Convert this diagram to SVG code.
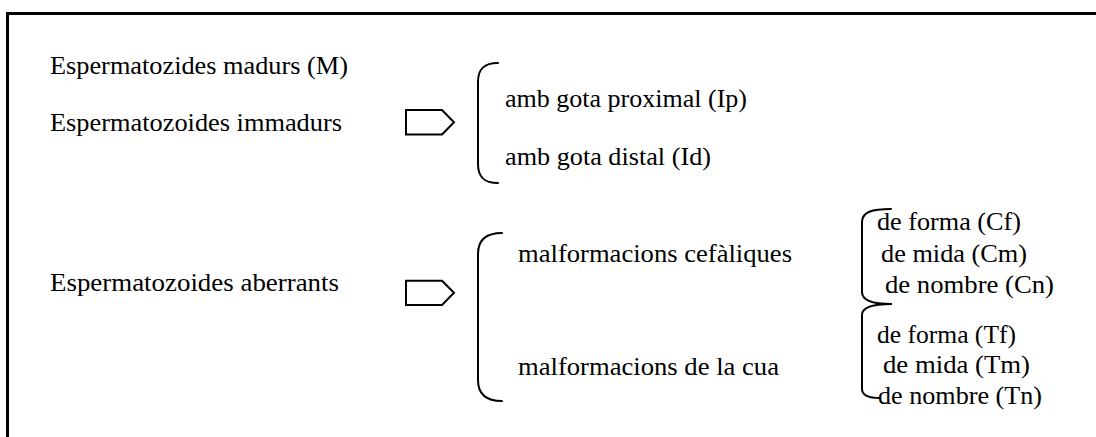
<svg xmlns="http://www.w3.org/2000/svg" width="1096" height="437" viewBox="0 0 1096 437">
  <style>
    .frame { fill: none; stroke: #000; stroke-width: 3; }
    .brace { fill: none; stroke: #000; stroke-width: 2; stroke-linecap: round; }
    .arrow { fill: #fff; stroke: #000; stroke-width: 2; stroke-linejoin: miter; }
    text { font-family: "Liberation Serif", "Times New Roman", serif; font-size: 26px; fill: #000; }
  </style>
  <rect width="1096" height="437" fill="#fff"/>

  <!-- open frame: top and left edges -->
  <path class="frame" d="M7.5,437 L7.5,13.5 L1096,13.5"/>

  <!-- first-level categories -->
  <g id="node-madurs">
    <text x="50" y="74" textLength="298" lengthAdjust="spacingAndGlyphs">Espermatozides madurs (M)</text>
  </g>
  <g id="node-immadurs">
    <text x="50" y="131" textLength="292" lengthAdjust="spacingAndGlyphs">Espermatozoides immadurs</text>
  </g>
  <g id="node-aberrants">
    <text x="50" y="291" textLength="289" lengthAdjust="spacingAndGlyphs">Espermatozoides aberrants</text>
  </g>

  <!-- immature subtypes -->
  <g id="node-ip">
    <text x="505" y="107" textLength="242" lengthAdjust="spacingAndGlyphs">amb gota proximal (Ip)</text>
  </g>
  <g id="node-id">
    <text x="505" y="165" textLength="206" lengthAdjust="spacingAndGlyphs">amb gota distal (Id)</text>
  </g>

  <!-- aberrant subtypes -->
  <g id="node-cefaliques">
    <text x="518" y="262" textLength="274" lengthAdjust="spacingAndGlyphs">malformacions cefàliques</text>
  </g>
  <g id="node-cua">
    <text x="518" y="375" textLength="261" lengthAdjust="spacingAndGlyphs">malformacions de la cua</text>
  </g>

  <!-- head malformations -->
  <g id="node-cf">
    <text x="877" y="230" textLength="144" lengthAdjust="spacingAndGlyphs">de forma (Cf)</text>
  </g>
  <g id="node-cm">
    <text x="881" y="262" textLength="146" lengthAdjust="spacingAndGlyphs">de mida (Cm)</text>
  </g>
  <g id="node-cn">
    <text x="885" y="293" textLength="169" lengthAdjust="spacingAndGlyphs">de nombre (Cn)</text>
  </g>

  <!-- tail malformations -->
  <g id="node-tf">
    <text x="877" y="343" textLength="139" lengthAdjust="spacingAndGlyphs">de forma (Tf)</text>
  </g>
  <g id="node-tm">
    <text x="883" y="373" textLength="147" lengthAdjust="spacingAndGlyphs">de mida (Tm)</text>
  </g>
  <g id="node-tn">
    <text x="878" y="404" textLength="164" lengthAdjust="spacingAndGlyphs">de nombre (Tn)</text>
  </g>

  <!-- block arrows and grouping brackets -->
  <g id="connectors">
    <polygon class="arrow" points="406,110 442,110 454,122.3 442,134.5 406,134.5"/>
    <polygon class="arrow" points="406,280.7 442,280.7 454,292.8 442,305 406,305"/>

    <path class="brace" d="M498,63 C484,63 478,69 478,82 L478,164 C478,177 484,183 498,183"/>
    <path class="brace" d="M502,233 C486,233 478,240 478,254 L478,380 C478,394 486,401 502,401"/>
    <path class="brace" d="M891,209 C872,209 862,212 862,222 L862,292 C862,300 872,304 891,304"/>
    <path class="brace" d="M891,304 C872,304 862,307 862,315 L862,389 C862,395 868,398 880,398"/>
  </g>
</svg>
